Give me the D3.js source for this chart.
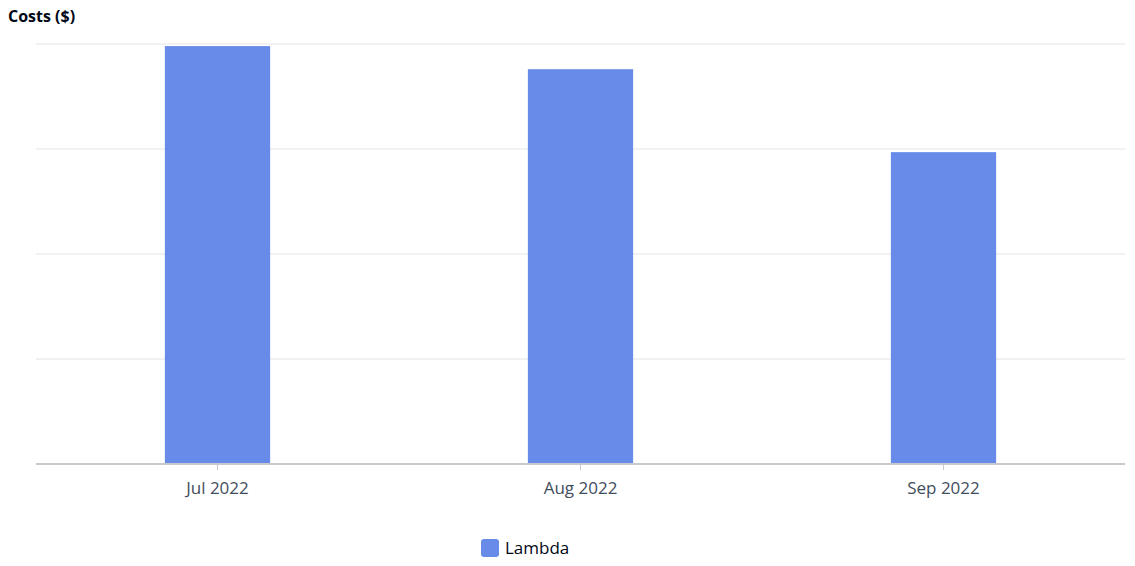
<!DOCTYPE html>
<html><head><meta charset="utf-8">
<script src="https://cdn.jsdelivr.net/npm/d3@7"></script>
<style>body{margin:0;background:#fff;font-family:"Open Sans",sans-serif;}</style>
</head><body><svg id="c" width="1135" height="566"></svg>
<script>
const categories = ["Jul 2022","Aug 2022","Sep 2022"];
const values = [398, 376, 297];
const yTicks = [0,100,200,300,400];
const seriesName = "Lambda";

const svg = d3.select("#c");
const m = {l:36, r:10, t:44, b:102};
const W = 1135, H = 566;
const x = d3.scaleBand().domain(categories).range([m.l, W-m.r]);
const y = d3.scaleLinear().domain([0,400]).range([H-m.b, m.t]);
const color = "#688ae8";

svg.append("g").selectAll("line").data(yTicks.slice(1)).join("line")
  .attr("x1", m.l).attr("x2", W-m.r).attr("y1", d=>y(d)).attr("y2", d=>y(d))
  .attr("stroke","#e2e4e7").attr("stroke-width",1);

const bw = x.bandwidth()*0.29;
svg.append("g").selectAll("rect").data(values).join("rect")
  .attr("x",(d,i)=>x(categories[i])+x.bandwidth()/2-bw/2)
  .attr("width",bw).attr("y",d=>y(d)).attr("height",d=>y(0)-y(d))
  .attr("fill",color);

const ax = svg.append("g").attr("transform",`translate(0,${y(0)})`)
  .call(d3.axisBottom(x).tickSize(6).tickPadding(12));
ax.select(".domain").attr("stroke","#c6c9cd").attr("stroke-width",2).attr("d",`M${m.l},0H${W-m.r}`);
ax.selectAll(".tick line").attr("stroke","#c6c9cd");
ax.selectAll(".tick text").attr("fill","#414d5c").attr("font-size",17).attr("font-family","Open Sans");

svg.append("text").attr("x",8).attr("y",22).text("Costs ($)")
  .attr("font-weight","bold").attr("font-size",16).attr("fill","#000716");

const lg = svg.append("g");
lg.append("rect").attr("x",481).attr("y",539).attr("width",18).attr("height",18).attr("rx",3).attr("fill",color);
lg.append("text").attr("x",505).attr("y",554).text(seriesName).attr("font-size",17).attr("fill","#000716");
</script></body></html>
